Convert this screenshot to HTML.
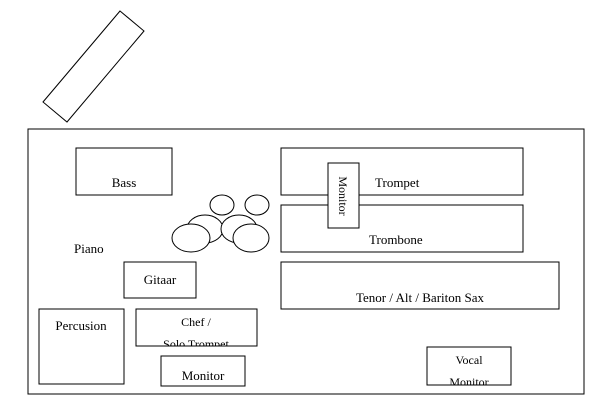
<!DOCTYPE html>
<html><head><style>body{margin:0;background:#fff}svg{display:block}</style></head><body>
<svg width="611" height="416" viewBox="0 0 611 416" xmlns="http://www.w3.org/2000/svg" font-family="Liberation Serif, serif" font-size="13" fill="none" stroke="#000" stroke-width="1">
<defs>
<clipPath id="c1"><rect x="136" y="309" width="121" height="37"/></clipPath>
<clipPath id="c2"><rect x="427" y="347" width="84" height="38"/></clipPath>
<clipPath id="c3"><rect x="328" y="163" width="31" height="65"/></clipPath>
</defs>
<polygon points="120,11 144,31 67,122 43,102" fill="#fff"/>
<rect x="28" y="129" width="556" height="265" fill="#fff"/>
<rect x="76" y="148" width="96" height="47"/>
<rect x="281" y="148" width="242" height="47"/>
<rect x="281" y="205" width="242" height="47"/>
<rect x="281" y="262" width="278" height="47"/>
<rect x="124" y="262" width="72" height="36"/>
<rect x="39" y="309" width="85" height="75"/>
<rect x="136" y="309" width="121" height="37"/>
<rect x="161" y="356" width="84" height="30"/>
<rect x="427" y="347" width="84" height="38"/>
<rect x="328" y="163" width="31" height="65" fill="#fff"/>
<ellipse cx="222" cy="205" rx="12" ry="10"/>
<ellipse cx="257" cy="205" rx="12" ry="10"/>
<ellipse cx="205" cy="229" rx="18" ry="14" fill="#fff"/>
<ellipse cx="191" cy="238" rx="19" ry="14" fill="#fff"/>
<ellipse cx="239" cy="229" rx="18" ry="14" fill="#fff"/>
<ellipse cx="251" cy="238" rx="18" ry="14" fill="#fff"/>
<g fill="#000" stroke="none">
<text x="124" y="187" text-anchor="middle">Bass</text>
<text x="74" y="253">Piano</text>
<text x="160" y="284" text-anchor="middle">Gitaar</text>
<text x="375" y="187">Trompet</text>
<text x="369" y="244">Trombone</text>
<text x="420" y="302" text-anchor="middle">Tenor / Alt / Bariton Sax</text>
<text x="81" y="330" text-anchor="middle">Percusion</text>
<text x="203" y="380" text-anchor="middle">Monitor</text>
<g clip-path="url(#c1)" font-size="12"><text x="196" y="326" text-anchor="middle">Chef /</text><text x="196" y="348" text-anchor="middle">Solo Trompet</text></g>
<g clip-path="url(#c2)" font-size="12"><text x="469" y="364" text-anchor="middle">Vocal</text><text x="469" y="386" text-anchor="middle">Monitor</text></g>
<g clip-path="url(#c3)"><text transform="translate(339,196) rotate(90)" text-anchor="middle" font-size="12">Monitor</text></g>
</g>
</svg>
</body></html>
